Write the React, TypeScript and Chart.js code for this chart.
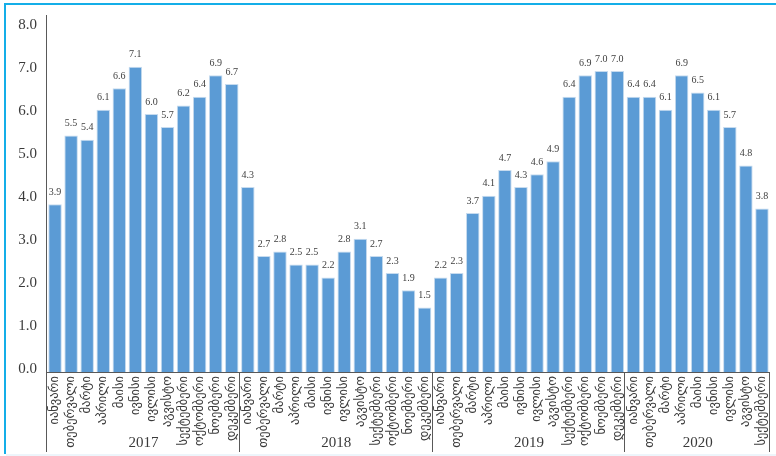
import React, { useEffect, useRef } from "react";
import { Chart, registerables } from "chart.js";

Chart.register(...registerables);

const months = [
  "იანვარი",
  "თებერვალი",
  "მარტი",
  "აპრილი",
  "მაისი",
  "ივნისი",
  "ივლისი",
  "აგვისტო",
  "სექტემბერი",
  "ოქტომბერი",
  "ნოემბერი",
  "დეკემბერი",
];
const years = ["2017", "2018", "2019", "2020"];
const values2017 = [3.9, 5.5, 5.4, 6.1, 6.6, 7.1, 6.0, 5.7, 6.2, 6.4, 6.9, 6.7];
const values2018 = [4.3, 2.7, 2.8, 2.5, 2.5, 2.2, 2.8, 3.1, 2.7, 2.3, 1.9, 1.5];
const values2019 = [2.2, 2.3, 3.7, 4.1, 4.7, 4.3, 4.6, 4.9, 6.4, 6.9, 7.0, 7.0];
const values2020 = [6.4, 6.4, 6.1, 6.9, 6.5, 6.1, 5.7, 4.8, 3.8];
const yMin = 0;
const yMax = 8;
const yStep = 1;

const seriesByYear = [values2017, values2018, values2019, values2020];

export default function App() {
  const ref = useRef<HTMLCanvasElement>(null);

  useEffect(() => {
    const categoryLabels: string[] = [];
    const categoryYears: number[] = [];
    const values: number[] = [];
    seriesByYear.forEach((arr, yi) => {
      arr.forEach((v, mi) => {
        categoryLabels.push(months[mi]);
        categoryYears.push(yi);
        values.push(v);
      });
    });

    const axisColor = "#595959";
    const textColor = "#3a3a3a";

    const decor = {
      id: "decor",
      beforeDraw(chart: any) {
        const ctx = chart.ctx;
        ctx.save();
        ctx.fillStyle = "#ffffff";
        ctx.fillRect(0, 0, chart.width, chart.height);
        ctx.restore();
      },
      afterDatasetsDraw(chart: any) {
        const ctx = chart.ctx;
        const xs = chart.scales.x;
        const ys = chart.scales.y;
        const area = chart.chartArea;
        const meta = chart.getDatasetMeta(0);
        ctx.save();

        // frame
        ctx.fillStyle = "#14aee8";
        ctx.fillRect(4, 3, 2, chart.height - 5);
        ctx.fillRect(4, 3, chart.width - 4, 2);
        ctx.fillStyle = "#edf5fb";
        ctx.fillRect(6, chart.height - 2, chart.width - 6, 2);

        // axes
        ctx.strokeStyle = axisColor;
        ctx.lineWidth = 1;
        ctx.beginPath();
        ctx.moveTo(area.left - 0.5, 15);
        ctx.lineTo(area.left - 0.5, 452);
        ctx.moveTo(area.left, area.bottom + 0.5);
        ctx.lineTo(area.right, area.bottom + 0.5);
        ctx.stroke();

        // year separators
        const n = values.length;
        const bounds: number[] = [];
        for (let i = 1; i < n; i++) {
          if (categoryYears[i] !== categoryYears[i - 1]) {
            bounds.push((xs.getPixelForValue(i - 1) + xs.getPixelForValue(i)) / 2);
          }
        }
        bounds.push(area.right);
        ctx.beginPath();
        bounds.forEach((bx) => {
          const px = Math.round(bx) - 0.5;
          ctx.moveTo(px, area.bottom);
          ctx.lineTo(px, 452);
        });
        ctx.stroke();

        // month labels
        ctx.fillStyle = textColor;
        ctx.font = '12.5px "DejaVu Sans", sans-serif';
        ctx.textAlign = "right";
        ctx.textBaseline = "middle";
        categoryLabels.forEach((lab, i) => {
          const x = xs.getPixelForValue(i);
          ctx.save();
          ctx.translate(x, area.bottom + 4);
          ctx.rotate(-Math.PI / 2);
          ctx.fillText(lab, 0, 0);
          ctx.restore();
        });

        // year labels
        ctx.font = '15px "Liberation Serif", serif';
        ctx.textAlign = "center";
        ctx.textBaseline = "middle";
        const starts = [area.left, ...bounds.slice(0, -1)];
        years.forEach((yr, yi) => {
          const cx = (starts[yi] + bounds[yi]) / 2;
          ctx.fillText(yr, cx, 443);
        });

        // data labels
        ctx.font = '10px "Liberation Serif", serif';
        ctx.fillStyle = "#404040";
        meta.data.forEach((bar: any, i: number) => {
          const top = ys.getPixelForValue(values[i]);
          ctx.fillText(values[i].toFixed(1), bar.x, top - 12);
        });

        ctx.restore();
      },
    };

    const chart = new Chart(ref.current!, {
      type: "bar",
      data: {
        labels: categoryLabels,
        datasets: [
          {
            data: values,
            backgroundColor: "#5B9BD5",
            borderColor: "#c6dbef",
            borderWidth: 1,
            barPercentage: 0.84,
            categoryPercentage: 1,
          },
        ],
      },
      options: {
        responsive: false,
        animation: false,
        devicePixelRatio: 1,
        layout: { padding: { left: 0, right: 6, top: 28, bottom: 84 } },
        plugins: { legend: { display: false }, tooltip: { enabled: false } },
        scales: {
          x: { display: false },
          y: {
            min: yMin,
            max: yMax,
            afterFit: (s: any) => {
              s.width = 47;
            },
            grid: { display: false, drawTicks: false },
            border: { display: false },
            ticks: {
              stepSize: yStep,
              padding: 10,
              labelOffset: -2.5,
              color: textColor,
              font: { family: "Liberation Serif", size: 15 },
              callback: (v: any) => Number(v).toFixed(1),
            },
          },
        },
      },
      plugins: [decor],
    });
    return () => chart.destroy();
  }, []);

  return (
    <div style={{ position: "fixed", left: 0, top: 0, width: 776, height: 456 }}>
      <canvas ref={ref} width={776} height={456} style={{ display: "block", width: 776, height: 456 }} />
    </div>
  );
}
